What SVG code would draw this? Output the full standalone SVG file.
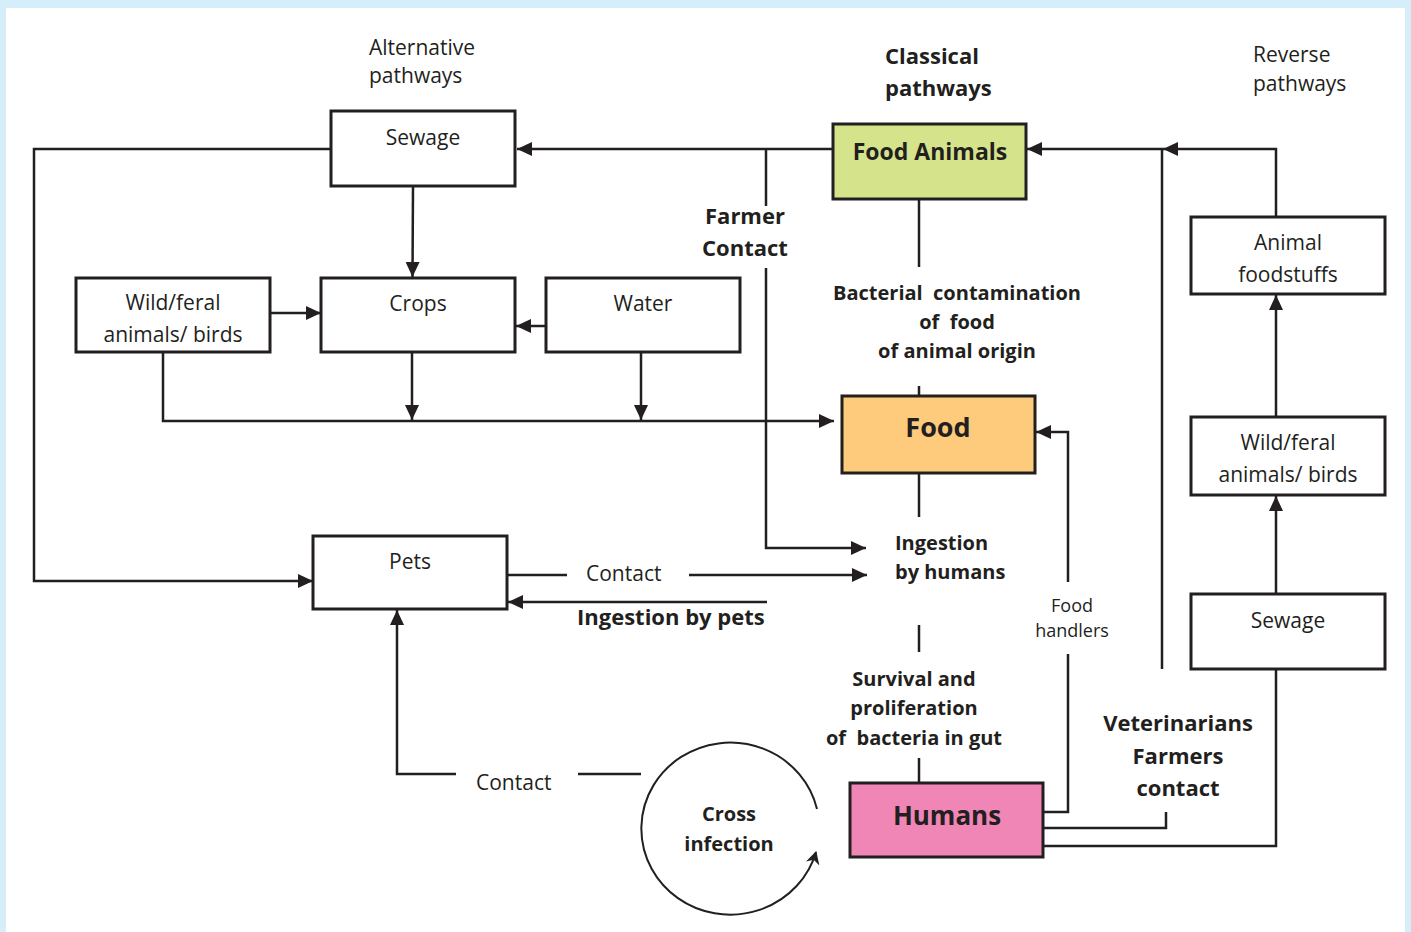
<svg xmlns="http://www.w3.org/2000/svg" width="1411" height="932" viewBox="0 0 1411 932">
<style>
.box{fill:#ffffff;stroke:#231f20;stroke-width:3}
.ln{fill:none;stroke:#231f20;stroke-width:2.5}
.arr{marker-end:url(#ah)}
text{font-family:"Open Sans","Noto Sans","Liberation Sans",sans-serif;fill:#231f20}
.r{font-size:21px}
.s{font-size:18px}
.b{font-weight:bold;font-size:20px}
.b22{font-weight:bold;font-size:22px}
.m{text-anchor:middle}
.pre{white-space:pre}
</style>
<defs>
<marker id="ah" markerUnits="userSpaceOnUse" markerWidth="15" markerHeight="14" refX="15" refY="7" orient="auto">
<path d="M0,0 L15,7 L0,14 z" fill="#231f20"/>
</marker>
<marker id="ah2" markerUnits="userSpaceOnUse" markerWidth="14" markerHeight="14" refX="12" refY="7" orient="auto">
<path d="M0,0 L13,7 L0,14 L4,7 z" fill="#231f20"/>
</marker>
</defs>
<rect x="0" y="0" width="1411" height="932" fill="#d5eef9"/>
<rect x="6" y="8" width="1399" height="924" fill="#ffffff"/>

<g id="connectors">
<path class="ln arr" d="M833,149 H517"/>
<path class="ln" d="M766,149 V206"/>
<path class="ln arr" d="M766,268 V548 H866"/>
<path class="ln arr" d="M331,149 H34 V581 H313"/>
<path class="ln arr" d="M413,186 L412.5,277"/>
<path class="ln arr" d="M270,313 H321"/>
<path class="ln arr" d="M546,326 H516"/>
<path class="ln arr" d="M412,352 V420"/>
<path class="ln arr" d="M641,352 V420"/>
<path class="ln arr" d="M163,352 V421 H834"/>
<path class="ln" d="M919,199 V267"/>
<path class="ln" d="M919,386 V396"/>
<path class="ln" d="M919,474 V517"/>
<path class="ln" d="M919,625 V652"/>
<path class="ln" d="M919,758 V783"/>
<path class="ln" d="M507,575 H567"/>
<path class="ln arr" d="M689,575 H867"/>
<path class="ln arr" d="M767,602 H508"/>
<path class="ln" d="M641,774 H578"/>
<path class="ln arr" d="M456,774 H397 V610"/>
<path class="ln" d="M1044,812 H1068 V654"/>
<path class="ln arr" d="M1068,582 V432 H1036"/>
<path class="ln" d="M1044,828 H1166 V812"/>
<path class="ln" d="M1044,846 H1276 V670"/>
<path class="ln arr" d="M1276,594 V496"/>
<path class="ln arr" d="M1276,417 V295"/>
<path class="ln arr" d="M1276,217 V149 H1163"/>
<path class="ln arr" d="M1162,669 V149 H1027"/>
<path class="ln" style="stroke-width:2" marker-end="url(#ah2)" d="M817,809 A89,86 0 1 0 816,852"/>
</g>

<g id="labels">
<text class="r"><tspan x="369" y="55">Alternative</tspan><tspan x="369" y="83">pathways</tspan></text>
<text class="b22"><tspan x="885" y="64">Classical</tspan><tspan x="885" y="96">pathways</tspan></text>
<text class="r"><tspan x="1253" y="62">Reverse</tspan><tspan x="1253" y="91">pathways</tspan></text>
<text class="b22 m"><tspan x="745" y="224">Farmer</tspan><tspan x="745" y="256">Contact</tspan></text>
<text class="b m pre"><tspan x="957" y="300">Bacterial  contamination</tspan><tspan x="957" y="329">of  food</tspan><tspan x="957" y="358">of animal origin</tspan></text>
<text class="b"><tspan x="895" y="550">Ingestion</tspan><tspan x="895" y="579">by humans</tspan></text>
<text class="r" x="586" y="581">Contact</text>
<text class="b22" x="577" y="625">Ingestion by pets</text>
<text class="s m" x="1072" y="612">Food</text>
<text class="s m" x="1072" y="637">handlers</text>
<text class="b m pre"><tspan x="914" y="686">Survival and</tspan><tspan x="914" y="715">proliferation</tspan><tspan x="914" y="745">of  bacteria in gut</tspan></text>
<text class="b22 m"><tspan x="1178" y="731">Veterinarians</tspan><tspan x="1178" y="764">Farmers</tspan><tspan x="1178" y="796">contact</tspan></text>
<text class="r" x="476" y="790">Contact</text>
</g>

<g id="cross-infection">
<text class="b m"><tspan x="729" y="821">Cross</tspan><tspan x="729" y="851">infection</tspan></text>
</g>

<g id="sewage-alt">
<rect class="box" x="331" y="111" width="184" height="75"/>
<text class="r m" x="423" y="145">Sewage</text>
</g>
<g id="food-animals">
<rect class="box" x="833" y="124" width="193" height="75" style="fill:#d5e38b"/>
<text class="b m" style="font-size:23px" x="930" y="160">Food Animals</text>
</g>
<g id="animal-foodstuffs">
<rect class="box" x="1191" y="217" width="194" height="77"/>
<text class="r m"><tspan x="1288" y="250">Animal</tspan><tspan x="1288" y="282">foodstuffs</tspan></text>
</g>
<g id="wild-left">
<rect class="box" x="76" y="278" width="194" height="74"/>
<text class="r m"><tspan x="173" y="310">Wild/feral</tspan><tspan x="173" y="342">animals/ birds</tspan></text>
</g>
<g id="crops">
<rect class="box" x="321" y="278" width="194" height="74"/>
<text class="r m" x="418" y="311">Crops</text>
</g>
<g id="water">
<rect class="box" x="546" y="278" width="194" height="74"/>
<text class="r m" x="643" y="311">Water</text>
</g>
<g id="food">
<rect class="box" x="842" y="396" width="193" height="77" style="fill:#fdcb7b"/>
<text class="b m" style="font-size:27px" x="938" y="437">Food</text>
</g>
<g id="wild-right">
<rect class="box" x="1191" y="417" width="194" height="78"/>
<text class="r m"><tspan x="1288" y="450">Wild/feral</tspan><tspan x="1288" y="482">animals/ birds</tspan></text>
</g>
<g id="sewage-rev">
<rect class="box" x="1191" y="594" width="194" height="75"/>
<text class="r m" x="1288" y="628">Sewage</text>
</g>
<g id="pets">
<rect class="box" x="313" y="536" width="194" height="73"/>
<text class="r m" x="410" y="569">Pets</text>
</g>
<g id="humans">
<rect class="box" x="850" y="783" width="193" height="74" style="fill:#f086b5"/>
<text class="b m" style="font-size:26px" x="947" y="825">Humans</text>
</g>
</svg>
